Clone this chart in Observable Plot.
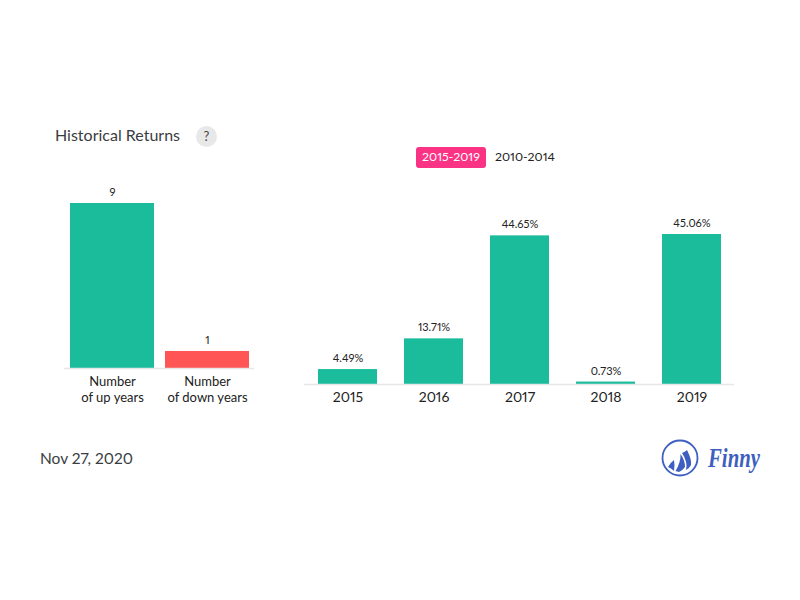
<!DOCTYPE html>
<html><head><meta charset="utf-8">
<script src="https://cdn.jsdelivr.net/npm/d3@7"></script>
<script src="https://cdn.jsdelivr.net/npm/@observablehq/plot@0.6"></script>
<style>
html,body{margin:0;padding:0;background:#fff}
#root{position:relative;width:800px;height:600px;font-family:Lato,sans-serif;overflow:hidden;font-variant-numeric:proportional-nums}
#root>*{position:absolute}
.t{white-space:nowrap;line-height:1}
svg{overflow:visible;font-variant-numeric:proportional-nums}
</style></head><body><div id="root"></div>
<script>
const countLabels = ["Number\nof up years", "Number\nof down years"];
const countValues = [9, 1];
const countColors = ["#1abc9c", "#ff5555"];
const years = ["2015", "2016", "2017", "2018", "2019"];
const returns = [4.49, 13.71, 44.65, 0.73, 45.06];
const returnLabels = ["4.49%", "13.71%", "44.65%", "0.73%", "45.06%"];

const root = document.getElementById("root");
function place(el, left, top) { el.style.left = left + "px"; el.style.top = top + "px"; root.appendChild(el); return el; }
function text(s, left, top, css) { const d = document.createElement("div"); d.className = "t"; d.textContent = s; d.style.cssText += css; return place(d, left, top); }

text("Historical Returns", 55, 126.5, "font-size:16px;color:#3a3d40");
text("?", 196, 125.5, "width:21px;height:21px;border-radius:50%;background:#e8e8e8;color:#444;font-size:13px;line-height:21px;text-align:center");
text("2015-2019", 416, 147, "width:70px;height:21px;line-height:20px;border-radius:3px;background:#fb3385;color:#fff;font-size:12.3px;text-align:center");
text("2010-2014", 495, 150, "font-size:12.3px;line-height:13px;color:#222");
text("Nov 27, 2020", 40, 451, "font-size:15.5px;color:#3a3d40");

const counts = countLabels.map((label, i) => ({label, value: countValues[i], color: countColors[i]}));
const left = Plot.plot({
  width: 200, height: 225, marginTop: 30, marginBottom: 30, marginLeft: 5, marginRight: 5,
  style: {background: "transparent", fontFamily: "Lato, sans-serif"},
  x: {domain: countLabels, paddingInner: 0.116, paddingOuter: 0.058, axis: null},
  y: {domain: [0.08, 9], range: [195, 30], axis: null},
  marks: [
    Plot.barY(counts, {x: "label", y: "value", fill: "color", clip: "frame"}),
    Plot.ruleY([0.08], {stroke: "#e6e6e6", strokeWidth: 1.5}),
    Plot.text(counts, {x: "label", y: "value", text: d => String(d.value), dy: -11, fontSize: 11, fill: "#222"}),
    Plot.axisX({domain: countLabels, anchor: "bottom", tickSize: 0, tickPadding: 6, fontSize: 13, fill: "#222", label: null, lineHeight: 1.23, stroke: "none"})
  ]
});
place(left, 59, 173);

const rows = years.map((year, i) => ({year, value: returns[i], label: returnLabels[i]}));
const right = Plot.plot({
  width: 450, height: 230, marginTop: 30, marginBottom: 30, marginLeft: 10, marginRight: 10,
  style: {background: "transparent", fontFamily: "Lato, sans-serif"},
  x: {domain: years, paddingInner: 0.314, paddingOuter: 0.157, axis: null},
  y: {domain: [0, 45.06], range: [200, 50], axis: null},
  marks: [
    Plot.barY(rows, {x: "year", y: "value", fill: "#1abc9c"}),
    Plot.ruleY([0], {stroke: "#e6e6e6", strokeWidth: 1.5}),
    Plot.text(rows, {x: "year", y: "value", text: "label", dy: -11, fontSize: 11, fill: "#222"}),
    Plot.axisX({domain: years, anchor: "bottom", tickSize: 0, tickPadding: 8, fontSize: 14, fill: "#222", label: null})
  ]
});
place(right, 294, 184);

// Finny logo
const ns = "http://www.w3.org/2000/svg";
const logo = document.createElementNS(ns, "svg");
logo.setAttribute("width", 110); logo.setAttribute("height", 50);
logo.innerHTML = `<circle cx="19" cy="20" r="17.5" fill="none" stroke="#3f5fc0" stroke-width="1.8"/>
<path d="M7 29 Q10 24 13 22 Q14 27 13 33 Q10 30 7 29Z M14.5 33 Q20 24 19.5 16 Q24 22 24 29 Q22 32 18 34Z M21 15 Q24 14 26 12 Q31 22 30 27 Q28 31 25 32 Q27 24 21 15Z" fill="#3f5fc0"/>
<text x="47" y="29" font-family="'Liberation Serif',serif" font-style="italic" font-weight="bold" font-size="28" textLength="52" lengthAdjust="spacingAndGlyphs" fill="#3f5fc0">Finny</text>`;
place(logo, 661, 438);
</script></body></html>
